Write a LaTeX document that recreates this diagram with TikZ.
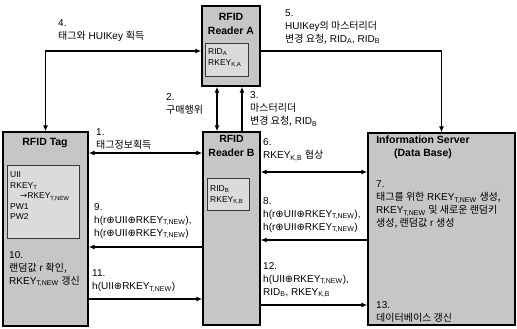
\documentclass[tikz,border=0pt]{standalone}
\usepackage{fontspec}
\setmainfont{Liberation Sans}
\newfontfamily\kr{Noto Sans CJK KR}
\newfontfamily\dv{DejaVu Sans}
\usetikzlibrary{arrows.meta}
\newcommand\sbs[1]{\textsubscript{#1}}
\newcommand\xo{{\dv ⊕}}
\newcommand\rar{{\dv →}}
\begin{document}
\begin{tikzpicture}[x=1pt,y=-1pt,
  outer/.style={draw=black, line width=1.3pt, fill=gray!45, inner sep=0pt},
  innerbox/.style={draw=gray!45!black, line width=0.8pt, fill=gray!28, inner sep=0pt},
  title/.style={font=\fontsize{10.5}{14}\selectfont\bfseries, align=center, inner sep=0pt},
  intext/.style={font=\fontsize{8.5}{10.5}\selectfont, align=left, anchor=west, inner sep=0pt},
  lbl/.style={font=\fontsize{10}{13}\selectfont, align=left, anchor=west, inner sep=0pt},
  arr/.style={line width=1.2pt, -{Latex[length=6pt,width=5pt]}},
  darr/.style={line width=1.2pt, {Latex[length=6pt,width=5pt]}-{Latex[length=6pt,width=5pt]}}]
\useasboundingbox (0,0) rectangle (517,329);
\fill[white] (0,0) rectangle (517,329);

% boxes
\node[outer, minimum width=58pt, minimum height=80pt] (ra) at (231,46) {};
\node[outer, minimum width=57pt, minimum height=193pt] (rb) at (231.5,228.5) {};
\node[outer, minimum width=85pt, minimum height=194pt] (tag) at (45.5,229) {};
\node[outer, minimum width=147pt, minimum height=192pt] (srv) at (441.5,229) {};

\node[innerbox, minimum width=43pt, minimum height=33pt] (ia) at (226.5,59.5) {};
\node[innerbox, minimum width=42pt, minimum height=32pt] (ib) at (228,194) {};
\node[innerbox, minimum width=72pt, minimum height=73pt] (it) at (43,201.5) {};

% titles
\node[title] (tra) at (231,23.5) {RFID\\Reader A};
\node[title] (trb) at (231.5,146) {RFID\\Reader B};
\node[title] (ttag) at (45,143) {RFID Tag};
\node[title, font=\fontsize{10.5}{13}\selectfont\bfseries] (tsrv) at (423,147) {Information Server\\(Data Base)};

% inner texts
\node[intext] (xa) at (208,58) {RID\sbs{A}\\RKEY\sbs{K,A}};
\node[intext] (xb) at (210,195) {RID\sbs{B}\\RKEY\sbs{K,B}};
\node[intext] (xt) at (10,196) {UII\\RKEY\sbs{T}\\\hspace*{10pt}\rar RKEY\sbs{T,NEW}\\PW1\\PW2};

% connectors
\coordinate (a2) at ([xshift=-14pt]ra.south);
\coordinate (a3) at ([xshift=11pt]ra.south);
\draw[darr] (tag.north) |- ([yshift=-5pt]ra.west);
\draw[arr] ([yshift=-5pt]ra.east) -| (srv.north);
\draw[darr] (a2) -- (a2 |- rb.north);
\draw[arr] (a3 |- rb.north) -- (a3);
\coordinate (y1) at (0,153);
\coordinate (y6) at (0,172);
\coordinate (y8) at (0,240);
\coordinate (y9) at (0,247);
\coordinate (y11) at (0,299);
\coordinate (y12) at (0,305);
\draw[darr] (tag.east |- y1) -- (rb.west |- y1);
\draw[darr] (rb.east |- y6) -- (srv.west |- y6);
\draw[arr] (srv.west |- y8) -- (rb.east |- y8);
\draw[arr] (rb.west |- y9) -- (tag.east |- y9);
\draw[arr] (tag.east |- y11) -- (rb.west |- y11);
\draw[arr] (rb.east |- y12) -- (srv.west |- y12);

% labels
\node[lbl] (l4) at (58,31) {4.\\{\kr 태그와} HUIKey {\kr 획득}};
\node[lbl] (l5) at (285,27) {5.\\HUIKey{\kr 의 마스터리더}\\{\kr 변경 요청,} RID\sbs{A}, RID\sbs{B}};
\node[lbl] (l2) at (166,104) {2.\\{\kr 구매행위}};
\node[lbl] (l3) at (250,109) {3.\\{\kr 마스터리더}\\{\kr 변경 요청,} RID\sbs{B}};
\node[lbl] (l1) at (96,139) {1.\\{\kr 태그정보획득}};
\node[lbl] (l6) at (263,150) {6.\\RKEY\sbs{K,B} {\kr 협상}};
\node[lbl] (l7) at (376,205) {7.\\{\kr 태그를 위한} RKEY\sbs{T,NEW} {\kr 생성,}\\RKEY\sbs{T,NEW} {\kr 및 새로운 랜덤키}\\{\kr 생성, 랜덤값} r {\kr 생성}};
\node[lbl] (l8) at (263,215) {8.\\h(r\xo UII\xo RKEY\sbs{T,NEW}),\\h(r\xo UII\xo RKEY\sbs{T,NEW})};
\node[lbl] (l9) at (94,221) {9.\\h(r\xo UII\xo RKEY\sbs{T,NEW}),\\h(r\xo UII\xo RKEY\sbs{T,NEW})};
\node[lbl] (l10) at (9,269) {10.\\{\kr 랜덤값} r {\kr 확인,}\\RKEY\sbs{T,NEW} {\kr 갱신}};
\node[lbl] (l11) at (92,281) {11.\\h(UII\xo RKEY\sbs{T,NEW})};
\node[lbl] (l12) at (263,280) {12.\\h(UII\xo RKEY\sbs{T,NEW}),\\RID\sbs{B}, RKEY\sbs{K,B}};
\node[lbl] (l13) at (376,312) {13.\\{\kr 데이터베이스 갱신}};
\end{tikzpicture}
\end{document}
